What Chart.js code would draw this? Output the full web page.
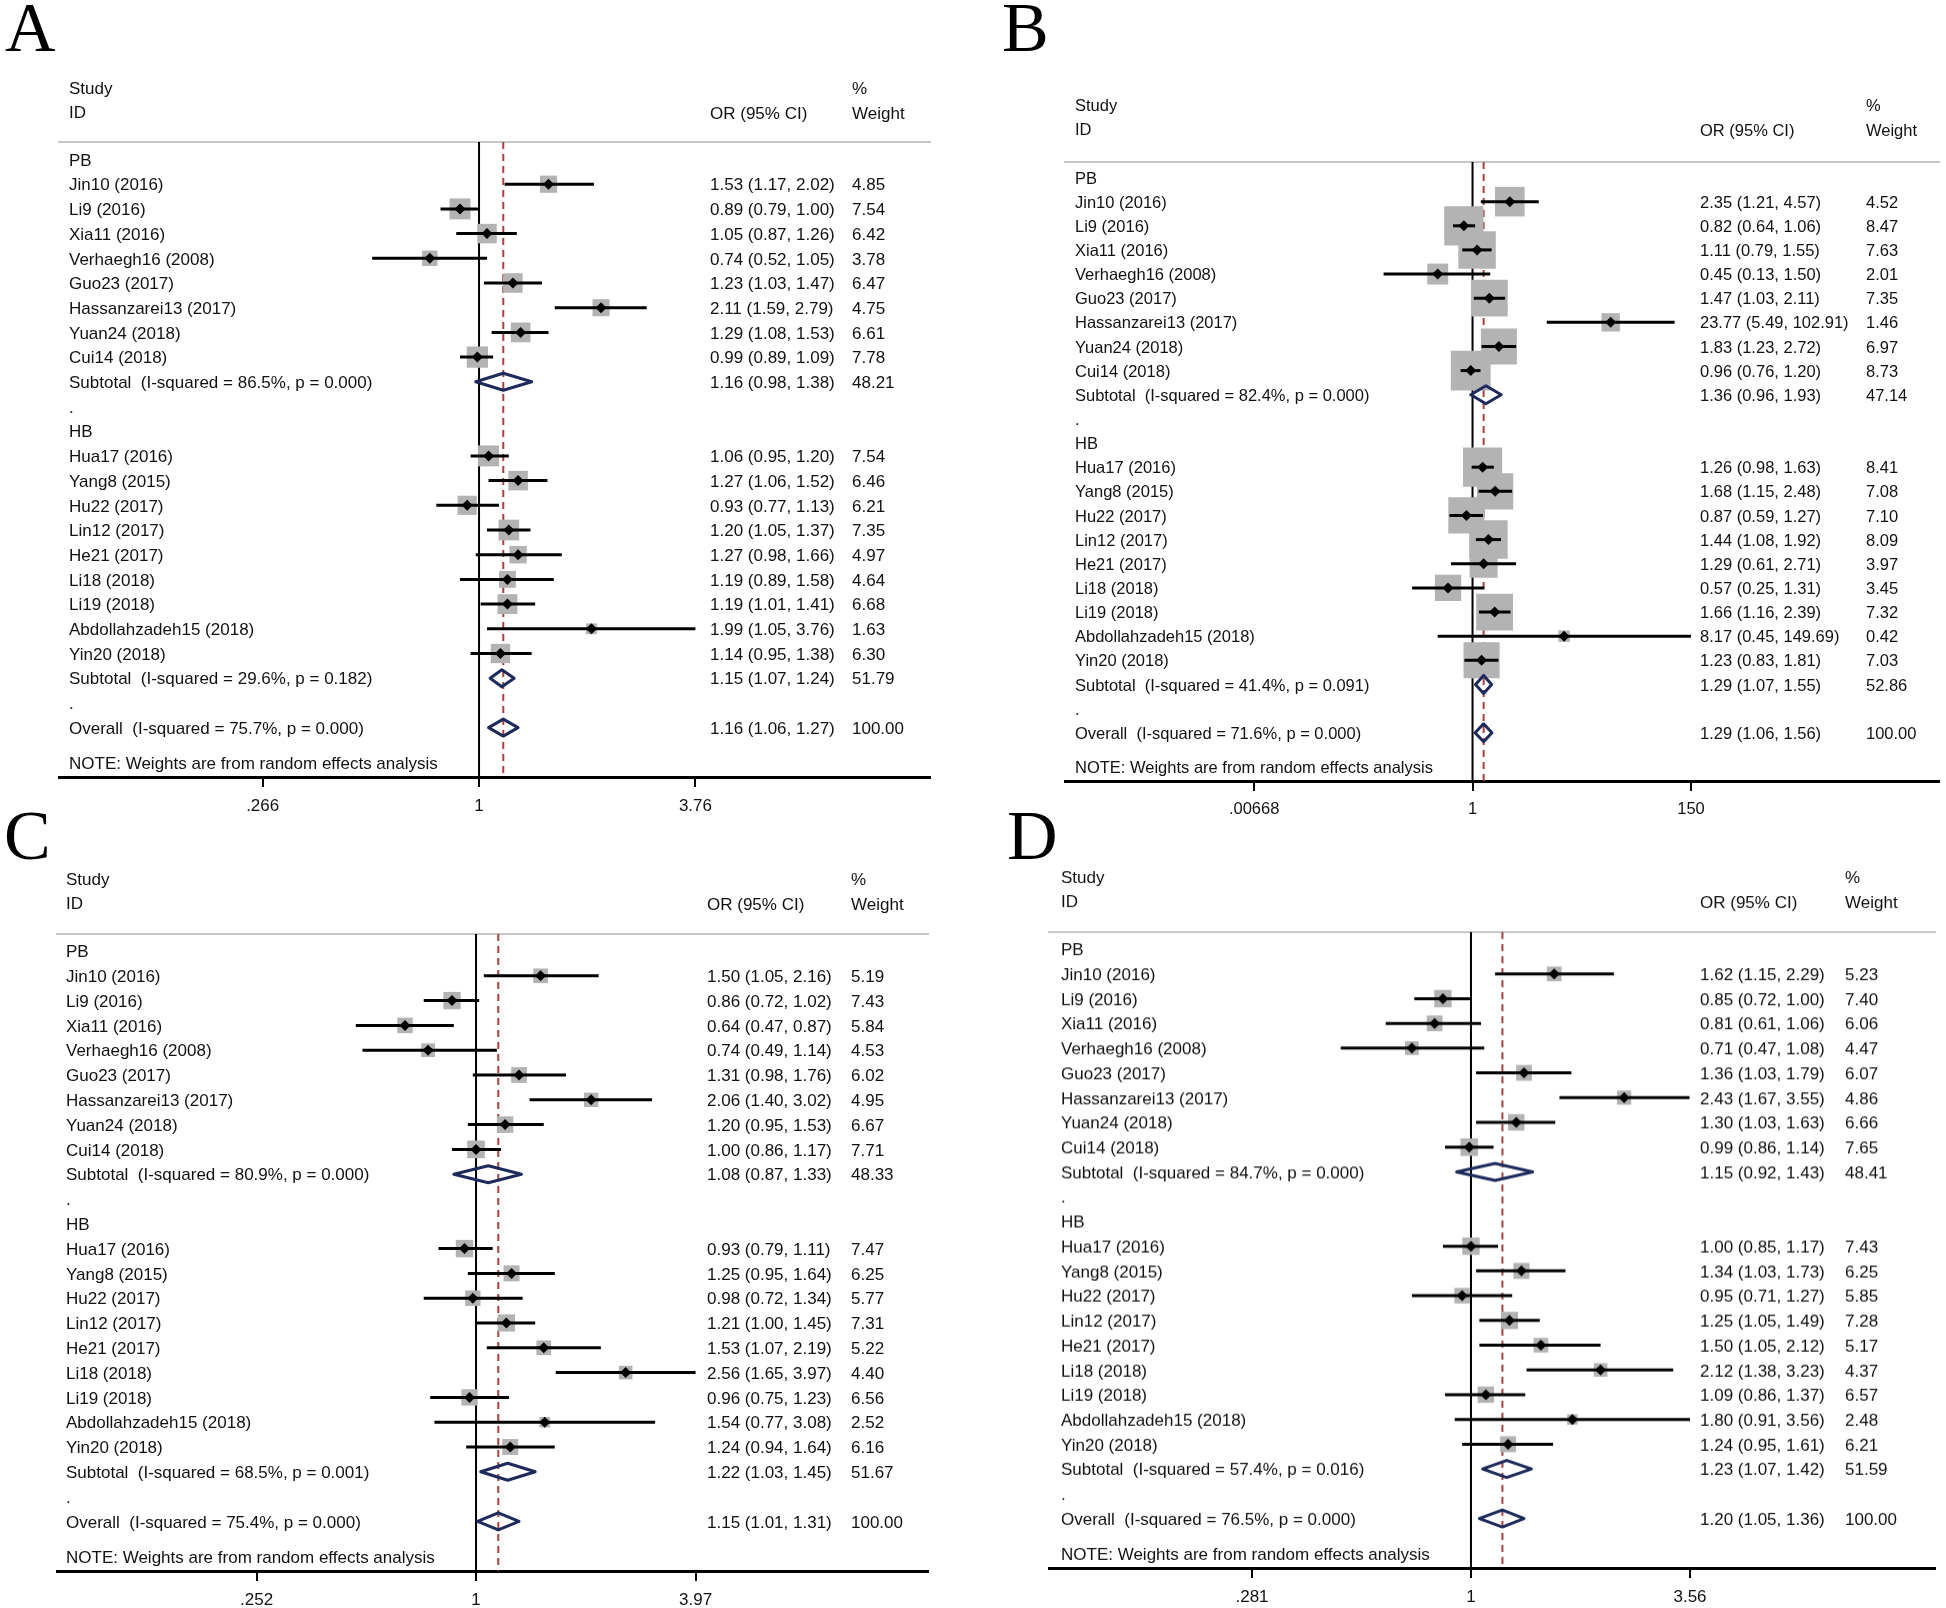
<!DOCTYPE html>
<html>
<head>
<meta charset="utf-8">
<script src="https://cdn.jsdelivr.net/npm/chart.js@4.4.1/dist/chart.umd.min.js"></script>
<style>
html,body{margin:0;padding:0;background:#fff;}
body{width:1946px;height:1608px;position:relative;overflow:hidden;}
.letter{position:absolute;font-family:"Liberation Serif","Times New Roman",serif;font-size:70px;line-height:70px;color:#000;}
canvas{position:absolute;}
</style>
</head>
<body>
<div class="letter" style="left:5px;top:-7px">A</div>
<div class="letter" style="left:1002px;top:-7px">B</div>
<div class="letter" style="left:4px;top:801px">C</div>
<div class="letter" style="left:1007px;top:801px">D</div>
<canvas id="cA"></canvas>
<canvas id="cB"></canvas>
<canvas id="cC"></canvas>
<canvas id="cD"></canvas>
<script>
// ---------- data ----------
const studiesPB = ["Jin10 (2016)","Li9 (2016)","Xia11 (2016)","Verhaegh16 (2008)","Guo23 (2017)","Hassanzarei13 (2017)","Yuan24 (2018)","Cui14 (2018)"];
const studiesHB = ["Hua17 (2016)","Yang8 (2015)","Hu22 (2017)","Lin12 (2017)","He21 (2017)","Li18 (2018)","Li19 (2018)","Abdollahzadeh15 (2018)","Yin20 (2018)"];
const groupNames = ["PB","HB"];

// Panel A
const A_or = [1.53,0.89,1.05,0.74,1.23,2.11,1.29,0.99, 1.06,1.27,0.93,1.20,1.27,1.19,1.19,1.99,1.14];
const A_lo = [1.17,0.79,0.87,0.52,1.03,1.59,1.08,0.89, 0.95,1.06,0.77,1.05,0.98,0.89,1.01,1.05,0.95];
const A_hi = [2.02,1.00,1.26,1.05,1.47,2.79,1.53,1.09, 1.20,1.52,1.13,1.37,1.66,1.58,1.41,3.76,1.38];
const A_wt = [4.85,7.54,6.42,3.78,6.47,4.75,6.61,7.78, 7.54,6.46,6.21,7.35,4.97,4.64,6.68,1.63,6.30];
const A_subOR = [1.16,1.15], A_subLo = [0.98,1.07], A_subHi = [1.38,1.24], A_subWt = [48.21,51.79];
const A_subI2 = [86.5,29.6], A_subP = [0.000,0.182];
const A_overall = [1.16,1.06,1.27], A_overallI2 = 75.7, A_overallP = 0.000;
const A_ticks = [0.266,1,3.76], A_tickLabels = [".266","1","3.76"];

// Panel B
const B_or = [2.35,0.82,1.11,0.45,1.47,23.77,1.83,0.96, 1.26,1.68,0.87,1.44,1.29,0.57,1.66,8.17,1.23];
const B_lo = [1.21,0.64,0.79,0.13,1.03,5.49,1.23,0.76, 0.98,1.15,0.59,1.08,0.61,0.25,1.16,0.45,0.83];
const B_hi = [4.57,1.06,1.55,1.50,2.11,102.91,2.72,1.20, 1.63,2.48,1.27,1.92,2.71,1.31,2.39,149.69,1.81];
const B_wt = [4.52,8.47,7.63,2.01,7.35,1.46,6.97,8.73, 8.41,7.08,7.10,8.09,3.97,3.45,7.32,0.42,7.03];
const B_subOR = [1.36,1.29], B_subLo = [0.96,1.07], B_subHi = [1.93,1.55], B_subWt = [47.14,52.86];
const B_subI2 = [82.4,41.4], B_subP = [0.000,0.091];
const B_overall = [1.29,1.06,1.56], B_overallI2 = 71.6, B_overallP = 0.000;
const B_ticks = [0.00668,1,150], B_tickLabels = [".00668","1","150"];

// Panel C
const C_or = [1.50,0.86,0.64,0.74,1.31,2.06,1.20,1.00, 0.93,1.25,0.98,1.21,1.53,2.56,0.96,1.54,1.24];
const C_lo = [1.05,0.72,0.47,0.49,0.98,1.40,0.95,0.86, 0.79,0.95,0.72,1.00,1.07,1.65,0.75,0.77,0.94];
const C_hi = [2.16,1.02,0.87,1.14,1.76,3.02,1.53,1.17, 1.11,1.64,1.34,1.45,2.19,3.97,1.23,3.08,1.64];
const C_wt = [5.19,7.43,5.84,4.53,6.02,4.95,6.67,7.71, 7.47,6.25,5.77,7.31,5.22,4.40,6.56,2.52,6.16];
const C_subOR = [1.08,1.22], C_subLo = [0.87,1.03], C_subHi = [1.33,1.45], C_subWt = [48.33,51.67];
const C_subI2 = [80.9,68.5], C_subP = [0.000,0.001];
const C_overall = [1.15,1.01,1.31], C_overallI2 = 75.4, C_overallP = 0.000;
const C_ticks = [0.252,1,3.97], C_tickLabels = [".252","1","3.97"];

// Panel D
const D_or = [1.62,0.85,0.81,0.71,1.36,2.43,1.30,0.99, 1.00,1.34,0.95,1.25,1.50,2.12,1.09,1.80,1.24];
const D_lo = [1.15,0.72,0.61,0.47,1.03,1.67,1.03,0.86, 0.85,1.03,0.71,1.05,1.05,1.38,0.86,0.91,0.95];
const D_hi = [2.29,1.00,1.06,1.08,1.79,3.55,1.63,1.14, 1.17,1.73,1.27,1.49,2.12,3.23,1.37,3.56,1.61];
const D_wt = [5.23,7.40,6.06,4.47,6.07,4.86,6.66,7.65, 7.43,6.25,5.85,7.28,5.17,4.37,6.57,2.48,6.21];
const D_subOR = [1.15,1.23], D_subLo = [0.92,1.07], D_subHi = [1.43,1.42], D_subWt = [48.41,51.59];
const D_subI2 = [84.7,57.4], D_subP = [0.000,0.016];
const D_overall = [1.20,1.05,1.36], D_overallI2 = 76.5, D_overallP = 0.000;
const D_ticks = [0.281,1,3.56], D_tickLabels = [".281","1","3.56"];

const noteText = "NOTE: Weights are from random effects analysis";

// ---------- rendering ----------
const FONT = '"Liberation Sans", Arial, Helvetica, sans-serif';
const PAD = 80, AXH = 45;

function fmt(v){ return v.toFixed(2); }

function makePanel(cfg){
  const el = document.getElementById(cfg.id);
  const W = cfg.right - cfg.left;
  const axisY = cfg.row0 + 25*cfg.step;
  const H = PAD + (axisY - cfg.headerY) + AXH;
  el.width = W; el.height = H;
  el.style.left = cfg.left + 'px'; el.style.top = (cfg.headerY - PAD) + 'px';
  el.style.width = W + 'px'; el.style.height = H + 'px';

  const nPB = studiesPB.length, nHB = studiesHB.length;
  const names = studiesPB.concat(studiesHB);
  const rowOf = i => i < nPB ? 1 + i : nPB + 4 + (i - nPB);
  const subRows = [nPB + 1, nPB + 4 + nHB];
  const groupRows = [0, nPB + 3];
  const dotRows = [nPB + 2, nPB + 5 + nHB];
  const overallRow = nPB + 6 + nHB;
  const noteRow = overallRow + 1.42;

  const boxData = cfg.or.map((v,i) => ({x:v, y:rowOf(i)}));
  const boxRadius = cfg.wt.map(w => (cfg.boxK*Math.sqrt(w) + cfg.boxC) / (2*Math.SQRT1_2));
  const ptData = cfg.or.map((v,i) => ({x:v, y:rowOf(i)}));

  const plugin = {
    id: 'forest_' + cfg.id,
    beforeDatasetsDraw(chart){
      const {ctx, chartArea:a, scales:{x}} = chart;
      ctx.save();
      ctx.strokeStyle = '#c6c6c6'; ctx.lineWidth = 2;
      ctx.beginPath(); ctx.moveTo(a.left, a.top); ctx.lineTo(a.right, a.top); ctx.stroke();
      const x1 = x.getPixelForValue(1);
      ctx.strokeStyle = '#000'; ctx.lineWidth = 2;
      ctx.beginPath(); ctx.moveTo(x1, a.top); ctx.lineTo(x1, a.bottom); ctx.stroke();
      const xr = x.getPixelForValue(cfg.overall[0]);
      ctx.strokeStyle = '#a8413d'; ctx.lineWidth = 2; ctx.setLineDash([7,5]);
      ctx.beginPath(); ctx.moveTo(xr, a.top); ctx.lineTo(xr, a.bottom); ctx.stroke();
      ctx.restore();
    },
    afterDatasetDraw(chart, args){
      if (args.index !== 0) return;
      const {ctx, scales:{x,y}} = chart;
      ctx.save();
      ctx.strokeStyle = '#000'; ctx.lineWidth = 3; ctx.lineCap = 'butt';
      cfg.or.forEach((v,i) => {
        const yy = y.getPixelForValue(rowOf(i));
        ctx.beginPath();
        ctx.moveTo(x.getPixelForValue(cfg.lo[i]), yy);
        ctx.lineTo(x.getPixelForValue(cfg.hi[i]), yy);
        ctx.stroke();
      });
      ctx.restore();
    },
    afterDatasetsDraw(chart){
      const {ctx, chartArea:a, scales:{x,y}} = chart;
      ctx.save();
      // diamonds
      ctx.strokeStyle = '#1c2a5c'; ctx.lineWidth = 3; ctx.lineJoin = 'round';
      const diamond = (o, l, h, row) => {
        const yc = y.getPixelForValue(row), xo = x.getPixelForValue(o);
        ctx.beginPath();
        ctx.moveTo(x.getPixelForValue(l), yc);
        ctx.lineTo(xo, yc - cfg.dh);
        ctx.lineTo(x.getPixelForValue(h), yc);
        ctx.lineTo(xo, yc + cfg.dh);
        ctx.closePath(); ctx.stroke();
      };
      for (let j = 0; j < 2; j++) diamond(cfg.subOR[j], cfg.subLo[j], cfg.subHi[j], subRows[j]);
      diamond(cfg.overall[0], cfg.overall[1], cfg.overall[2], overallRow);

      // text
      ctx.fillStyle = '#111';
      ctx.font = cfg.fs + 'px ' + FONT;
      ctx.textBaseline = 'alphabetic'; ctx.textAlign = 'left';
      const bl = row => y.getPixelForValue(row) + cfg.fs*0.37;
      const xL = a.left + cfg.colL, xO = a.left + cfg.colOR, xW = a.left + cfg.colW;
      const y0 = y.getPixelForValue(0);
      ctx.fillText('Study', xL, y0 - 66);
      ctx.fillText('ID', xL, y0 - 42);
      ctx.fillText('%', xW, y0 - 66);
      ctx.fillText('OR (95% CI)', xO, y0 - 41);
      ctx.fillText('Weight', xW, y0 - 41);
      groupRows.forEach((r,j) => ctx.fillText(groupNames[j], xL, bl(r)));
      dotRows.forEach(r => ctx.fillText('.', xL, bl(r)));
      names.forEach((n,i) => {
        const r = rowOf(i);
        ctx.fillText(n, xL, bl(r));
        ctx.fillText(fmt(cfg.or[i]) + ' (' + fmt(cfg.lo[i]) + ', ' + fmt(cfg.hi[i]) + ')', xO, bl(r));
        ctx.fillText(fmt(cfg.wt[i]), xW, bl(r));
      });
      for (let j = 0; j < 2; j++) {
        const r = subRows[j];
        ctx.fillText('Subtotal  (I-squared = ' + cfg.subI2[j].toFixed(1) + '%, p = ' + cfg.subP[j].toFixed(3) + ')', xL, bl(r));
        ctx.fillText(fmt(cfg.subOR[j]) + ' (' + fmt(cfg.subLo[j]) + ', ' + fmt(cfg.subHi[j]) + ')', xO, bl(r));
        ctx.fillText(fmt(cfg.subWt[j]), xW, bl(r));
      }
      ctx.fillText('Overall  (I-squared = ' + cfg.overallI2.toFixed(1) + '%, p = ' + cfg.overallP.toFixed(3) + ')', xL, bl(overallRow));
      ctx.fillText(fmt(cfg.overall[0]) + ' (' + fmt(cfg.overall[1]) + ', ' + fmt(cfg.overall[2]) + ')', xO, bl(overallRow));
      ctx.fillText('100.00', xW, bl(overallRow));
      ctx.fillText(noteText, xL, bl(noteRow));
      ctx.restore();
    }
  };

  return new Chart(el, {
    type: 'scatter',
    data: {
      datasets: [
        { label:'box', data: boxData, pointStyle:'rect', pointRadius: boxRadius, pointHoverRadius: boxRadius,
          backgroundColor:'#b3b3b3', borderWidth:0, order:2 },
        { label:'est', data: ptData, pointStyle:'rectRot', pointRadius: 5.5, pointHoverRadius: 5.5,
          backgroundColor:'#000', borderWidth:0, order:1 }
      ]
    },
    options: {
      responsive:false, animation:false, devicePixelRatio:1, events:[],
      layout:{autoPadding:false, padding:{top:PAD, left:0, right:0, bottom:0}},
      plugins:{legend:{display:false}, tooltip:{enabled:false}, title:{display:false}},
      scales:{
        x:{
          type:'logarithmic', position:'bottom', min:cfg.xmin, max:cfg.xmax, bounds:'data',
          afterBuildTicks: s => { s.ticks = cfg.ticks.map(v => ({value:v})); },
          afterFit: s => { s.height = AXH; s.paddingLeft = 0; s.paddingRight = 0; },
          ticks:{ autoSkip:false, maxRotation:0, minRotation:0, padding:9, color:'#111',
                  font:{family:FONT, size:cfg.fs}, callback:(v,i) => cfg.tickLabels[i] },
          grid:{ display:true, drawOnChartArea:false, drawTicks:true, tickLength:10, color:'#000', lineWidth:2 },
          border:{ display:true, color:'#000', width:3 }
        },
        y:{ type:'linear', display:false, reverse:true, min: -(cfg.row0 - cfg.headerY)/cfg.step, max:25 }
      }
    },
    plugins:[plugin]
  });
}

makePanel({id:'cA', left:58, right:931, headerY:142, row0:159.5, step:24.7, xmin:0.0760, xmax:15.9,
  ticks:A_ticks, tickLabels:A_tickLabels, colL:11, colOR:652, colW:794, boxK:6.9, boxC:2, fs:17, dh:8.5,
  or:A_or, lo:A_lo, hi:A_hi, wt:A_wt, subOR:A_subOR, subLo:A_subLo, subHi:A_subHi, subWt:A_subWt,
  subI2:A_subI2, subP:A_subP, overall:A_overall, overallI2:A_overallI2, overallP:A_overallP});

makePanel({id:'cB', left:1064, right:1940, headerY:162, row0:177.5, step:24.15, xmin:8.53e-5, xmax:45300,
  ticks:B_ticks, tickLabels:B_tickLabels, colL:11, colOR:636, colW:802, boxK:12.3, boxC:3.5, fs:16.5, dh:9,
  or:B_or, lo:B_lo, hi:B_hi, wt:B_wt, subOR:B_subOR, subLo:B_subLo, subHi:B_subHi, subWt:B_subWt,
  subI2:B_subI2, subP:B_subP, overall:B_overall, overallI2:B_overallI2, overallP:B_overallP});

makePanel({id:'cC', left:56, right:929, headerY:934, row0:951, step:24.8, xmin:0.0715, xmax:17.2,
  ticks:C_ticks, tickLabels:C_tickLabels, colL:10, colOR:651, colW:795, boxK:6, boxC:1, fs:17, dh:8.5,
  or:C_or, lo:C_lo, hi:C_hi, wt:C_wt, subOR:C_subOR, subLo:C_subLo, subHi:C_subHi, subWt:C_subWt,
  subI2:C_subI2, subP:C_subP, overall:C_overall, overallI2:C_overallI2, overallP:C_overallP});

makePanel({id:'cD', left:1048, right:1936, headerY:932, row0:949, step:24.75, xmin:0.0861, xmax:14.82,
  ticks:D_ticks, tickLabels:D_tickLabels, colL:13, colOR:652, colW:797, boxK:6, boxC:1, fs:17, dh:8.5,
  or:D_or, lo:D_lo, hi:D_hi, wt:D_wt, subOR:D_subOR, subLo:D_subLo, subHi:D_subHi, subWt:D_subWt,
  subI2:D_subI2, subP:D_subP, overall:D_overall, overallI2:D_overallI2, overallP:D_overallP});
</script>
</body>
</html>
